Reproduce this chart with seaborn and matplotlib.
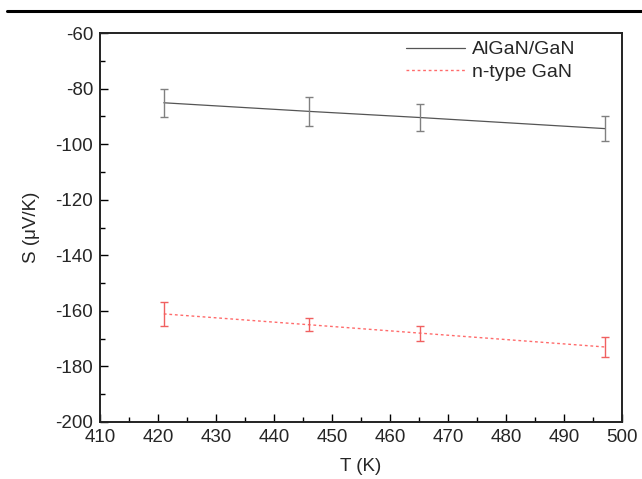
import numpy as np
import pandas as pd
import matplotlib
matplotlib.use('Agg')
import matplotlib.pyplot as plt
import seaborn as sns
from matplotlib.lines import Line2D
from matplotlib.ticker import MultipleLocator

# Datos
T_algan = [421.0, 446.1, 465.1, 497.1]
S_algan = [-85.1, -88.2, -90.4, -94.4]
err_algan = [5.0, 5.3, 4.8, 4.6]

T_ntype = [421.0, 446.1, 465.1, 497.1]
S_ntype = [-161.1, -165.0, -168.0, -173.0]
err_ntype = [4.4, 2.4, 2.7, 3.6]

sns.set_style('ticks')
plt.rcParams['font.family'] = ['Liberation Sans', 'DejaVu Sans']
plt.rcParams['axes.unicode_minus'] = False

fig = plt.figure(figsize=(6.42, 4.79), dpi=100)
ax = fig.add_axes([0.1558, 0.119, 0.813, 0.812])

df_a = pd.DataFrame({'T': T_algan, 'S': S_algan})
df_n = pd.DataFrame({'T': T_ntype, 'S': S_ntype})

sns.lineplot(data=df_a, x='T', y='S', ax=ax, color='#555555', linewidth=0.9)
sns.lineplot(data=df_n, x='T', y='S', ax=ax, color='#ff6b6b', linewidth=1.0,
             linestyle=(0, (2, 2)))

ax.errorbar(T_algan, S_algan, yerr=err_algan, fmt='none', ecolor='#808080',
            elinewidth=1.0, capsize=3, capthick=1.0)
ax.errorbar(T_ntype, S_ntype, yerr=err_ntype, fmt='none', ecolor='#f06060',
            elinewidth=1.0, capsize=3, capthick=1.0)

ax.set_xlim(410, 500)
ax.set_ylim(-200, -60)
ax.xaxis.set_major_locator(MultipleLocator(10))
ax.xaxis.set_minor_locator(MultipleLocator(5))
ax.yaxis.set_major_locator(MultipleLocator(20))
ax.yaxis.set_minor_locator(MultipleLocator(10))
ax.tick_params(which='both', direction='in', top=False, right=False,
               width=1.0, color='black', labelsize=13.5, pad=5)
ax.tick_params(which='major', length=6)
ax.tick_params(which='minor', length=3.5)
for s in ax.spines.values():
    s.set_linewidth(1.4)
    s.set_color('#222222')

ax.set_xlabel('T (K)', fontsize=13.5, labelpad=9)
ax.set_ylabel('S (μV/K)', fontsize=13.5, labelpad=11)

handles = [Line2D([], [], color='#555555', linewidth=0.9),
           Line2D([], [], color='#ff6b6b', linewidth=1.0, linestyle=(0, (2, 2)))]
ax.legend(handles, ['AlGaN/GaN', 'n-type GaN'], loc='upper right', frameon=False,
          fontsize=14, handlelength=3.0, handletextpad=0.35, labelspacing=0.25,
          borderaxespad=0.0, bbox_to_anchor=(0.925, 1.0))

# linea negra superior
fig.add_artist(Line2D([0.011, 1.0], [0.977, 0.977], color='black', linewidth=2.2,
                      transform=fig.transFigure))

fig.savefig('out.png', dpi=100)
